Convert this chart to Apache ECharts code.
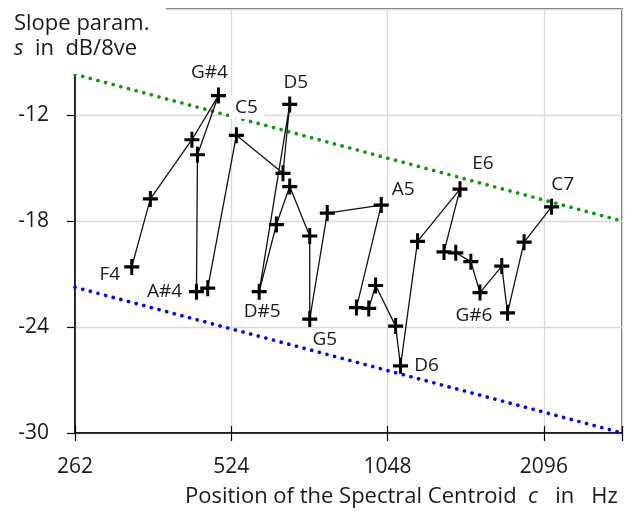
<!DOCTYPE html>
<html><head><meta charset="utf-8">
<script src="https://cdn.jsdelivr.net/npm/echarts@6/dist/echarts.min.js"></script>
<style>html,body{margin:0;padding:0;background:#fff}#c{width:633px;height:511px}</style>
</head><body><div id="c"></div>
<script>
// ---- data ----
const notes = ['F4','F#4','G4','G#4','A4','A#4','B4','C5','C#5','D5','D#5','E5','F5','F#5','G5','G#5','A5','A#5','B5','C6','C#6','D6','D#6','E6','F6','F#6','G6','G#6','A6','A#6','B6','C7'];
const centroidHz = [337,366,440,495,451,449,472,536,659,679,593,640,679,742,742,802,1019,913,964,994,1086,1110,1197,1445,1346,1418,1516,1579,1739,1784,1920,2169];
const slopeDb = [-20.6,-16.75,-13.4,-10.9,-14.25,-22.0,-21.8,-13.15,-15.3,-11.4,-22.0,-18.2,-16.05,-18.85,-23.55,-17.55,-17.1,-22.9,-22.95,-21.65,-23.95,-26.2,-19.15,-16.2,-19.75,-19.8,-20.3,-22.05,-20.55,-23.2,-19.2,-17.2];
const labeledNotes = ['F4','A#4','G#4','C5','D5','D#5','G5','A5','D6','E6','G#6','C7'];
const xTickHz = [262,524,1048,2096];
const yTicks = [-30,-24,-18,-12];
const boundHz = [262, 2964];
const upperBound = [-9.7, -18.0];
const lowerBound = [-21.75, -30.0];

// ---- styling ----
const FONT = '"Open Sans", "DejaVu Sans", sans-serif';
const TXT = '#1a1a1a';
const labelOffset = {
  'F4':[-22,8], 'A#4':[-32,0], 'G#4':[-9,-23], 'C5':[10,-28], 'D5':[6,-22],
  'D#5':[3,20], 'G5':[15,21], 'A5':[22,-16], 'D6':[26,0], 'E6':[23,-26],
  'G#6':[-6,23], 'C7':[11,-22]
};
const oct = f => Math.log2(f / boundHz[0]);
const xMax = oct(boundHz[1]);

const mainData = notes.map((n, i) => {
  const d = { value: [oct(centroidHz[i]), slopeDb[i]], name: n };
  if (labeledNotes.includes(n)) {
    d.label = {
      show: true, formatter: n, position: 'inside', offset: labelOffset[n],
      align: 'center', verticalAlign: 'middle',
      fontSize: 19, fontFamily: FONT, color: TXT
    };
    if (n === 'C5') { d.label.backgroundColor = '#fff'; d.label.padding = [2, 6]; }
  }
  return d;
});

const chart = echarts.init(document.getElementById('c'), null, { renderer: 'canvas' });
const plus = 'path://M6.4,0H9.6V6.4H16V9.6H9.6V16H6.4V9.6H0V6.4H6.4Z';

chart.setOption({
  animation: false,
  backgroundColor: '#fff',
  grid: { left: 75, right: 11, top: 9, bottom: 78, show: true, borderColor: '#404040', borderWidth: 1.5 },
  xAxis: [{
    type: 'value', min: 0, max: xMax, interval: 1, position: 'bottom',
    axisLine: { show: true, lineStyle: { color: '#000', width: 1.5 } },
    axisTick: { show: true, length: 8, lineStyle: { color: '#000', width: 1.2 } },
    axisLabel: {
      margin: 24, fontSize: 21, fontFamily: FONT, color: TXT,
      formatter: v => { const k = Math.round(v); return Math.abs(v - k) < 1e-6 && xTickHz[k] ? String(xTickHz[k]) : ''; }
    },
    splitLine: { show: true, lineStyle: { color: '#d9d9d9', width: 1.3 } }
  }, {
    type: 'value', min: 0, max: xMax, interval: 1, position: 'bottom',
    axisLine: { show: false },
    axisTick: { show: true, inside: true, length: 7, lineStyle: { color: '#000', width: 1.2 } },
    axisLabel: { show: false }, splitLine: { show: false }
  }],
  yAxis: {
    type: 'value', min: -30, max: -6, interval: 6,
    axisLine: { show: true, lineStyle: { color: '#000', width: 1.5 } },
    axisTick: { show: true, length: 8, lineStyle: { color: '#000', width: 1.2 } },
    axisLabel: {
      margin: 26, fontSize: 21, fontFamily: FONT, color: TXT,
      formatter: v => yTicks.includes(v) ? String(v) : ''
    },
    splitLine: { show: true, lineStyle: { color: '#d9d9d9', width: 1.3 } }
  },
  series: [{
    type: 'line', z: 2, silent: true, symbol: 'none',
    data: boundHz.map((f, i) => [oct(f), upperBound[i]]),
    lineStyle: { color: '#0a9a0a', width: 3.6, type: [0.1, 7.8], cap: 'round' }
  }, {
    type: 'line', z: 2, silent: true, symbol: 'none',
    data: boundHz.map((f, i) => [oct(f), lowerBound[i]]),
    lineStyle: { color: '#0000ff', width: 3.6, type: [0.1, 7.8], cap: 'round' }
  }, {
    type: 'line', z: 4, data: mainData,
    symbol: plus, symbolSize: [15, 16], showSymbol: true, showAllSymbol: true,
    itemStyle: { color: '#000' },
    lineStyle: { color: '#111', width: 1.3 },
    label: { show: false }
  }],
  graphic: [
    { type: 'rect', z: 100, shape: { x: 0, y: 0, width: 166, height: 74 }, style: { fill: '#fff' } },
    { type: 'text', z: 101, left: 14, top: 13, style: { text: 'Slope param.', font: '22px ' + FONT, fill: TXT } },
    { type: 'text', z: 101, left: 14, top: 38, style: {
        text: '{i|s}  in  dB/8ve', font: '22px ' + FONT, fill: TXT,
        rich: { i: { fontStyle: 'italic', fontSize: 22, fontFamily: FONT, color: TXT } } } },
    { type: 'text', z: 101, left: 185, top: 486, style: {
        text: 'Position of the Spectral Centroid  {i|c}   in   Hz', font: '22px ' + FONT, fill: TXT,
        rich: { i: { fontStyle: 'italic', fontSize: 22, fontFamily: FONT, color: TXT } } } }
  ]
});
</script>
</body></html>
